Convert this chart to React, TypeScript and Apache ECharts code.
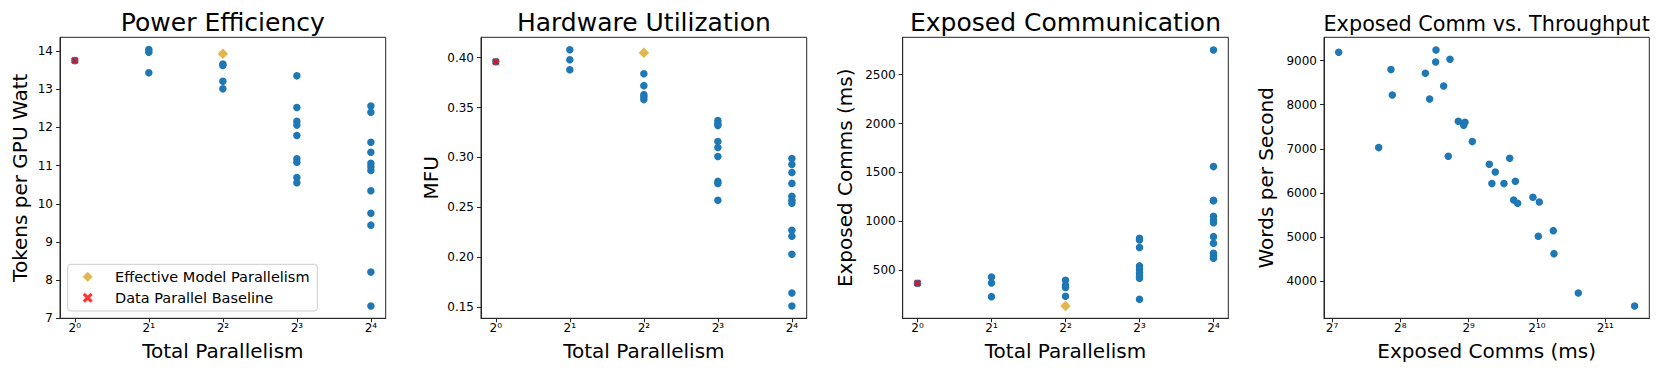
import React, { useEffect, useRef } from "react";
import * as echarts from "echarts";

// ---------------- data ----------------
const parallelism = [1, 2, 4, 8, 16];

// Tokens per GPU Watt, one list per parallelism level
const powerEfficiency = [
  [13.75],
  [14.04, 13.97, 13.43],
  [13.66, 13.62, 13.21, 13.01],
  [13.35, 12.52, 12.16, 12.06, 11.79, 11.18, 11.09, 10.69, 10.55],
  [12.56, 12.4, 11.61, 11.35, 11.06, 10.97, 10.87, 10.34, 9.75, 9.44, 8.21, 7.32],
];

// MFU
const mfu = [
  [0.396],
  [0.408, 0.398, 0.388],
  [0.384, 0.372, 0.363, 0.361, 0.358],
  [0.337, 0.334, 0.332, 0.316, 0.31, 0.301, 0.276, 0.274, 0.257],
  [0.299, 0.293, 0.285, 0.274, 0.261, 0.257, 0.254, 0.227, 0.221, 0.203, 0.164, 0.151],
];

// Exposed comms (ms)
const exposedComms = [
  [368],
  [432, 371, 231],
  [399, 348, 324, 235],
  [828, 811, 732, 545, 511, 476, 443, 419, 205],
  [2752, 1560, 1216, 1210, 1053, 1015, 987, 844, 777, 675, 647, 624],
];

// Effective model parallelism (diamond) at parallelism 4
const effectiveParallelism = 4;
const effectivePower = 13.93;
const effectiveMfu = 0.405;
const effectiveComms = 136;

// Data parallel baseline (x) at parallelism 1
const baselineParallelism = 1;
const baselinePower = 13.75;
const baselineMfu = 0.396;
const baselineComms = 368;

// Exposed comm vs throughput
const commsMs = [
  137.0, 232.8, 236.0, 205.5, 330.0, 344.6, 367.6, 366.3, 423.7, 397.3,
  416.5, 461.1, 493.3, 486.7, 531.5, 631.3, 670.7, 648.2, 732.7, 776.2,
  822.3, 808.4, 841.7, 983.0, 1048.6, 1038.3, 1208.3, 1216.5, 1557.5, 2757,
];
const wordsPerSecond = [
  9189, 8796, 8221, 7026, 8713, 8130, 9242, 8970, 9030, 8425,
  6829, 7623, 7601, 7533, 7162, 6648, 6474, 6209, 6209, 6784,
  6262, 5838, 5763, 5899, 5793, 5014, 5142, 4620, 3728, 3433,
];

const powerTicks = [7, 8, 9, 10, 11, 12, 13, 14];
const mfuTicks = [0.15, 0.2, 0.25, 0.3, 0.35, 0.4];
const commsTicks = [500, 1000, 1500, 2000, 2500];
const commsLogTicks = [128, 256, 512, 1024, 2048];
const wordsTicks = [4000, 5000, 6000, 7000, 8000, 9000];

const titles = ["Power Efficiency", "Hardware Utilization", "Exposed Communication", "Exposed Comm vs. Throughput"];
const yNames = ["Tokens per GPU Watt", "MFU", "Exposed Comms (ms)", "Words per Second"];
const xNames = ["Total Parallelism", "Total Parallelism", "Total Parallelism", "Exposed Comms (ms)"];

// ---------------- styling ----------------
const FONT = "DejaVu Sans";
const BLUE = "#1f77b4";
const GOLD = "#DAA520";
const RED = "#ff0000";
const SPINE = "#262626";
const X_SYMBOL = "path://M0,2.2L2.2,0L5,2.8L7.8,0L10,2.2L7.2,5L10,7.8L7.8,10L5,7.2L2.2,10L0,7.8L2.8,5Z";

const SUP = "⁰¹²³⁴⁵⁶⁷⁸⁹";
const sup = (n: number) =>
  String(n)
    .split("")
    .map((d) => SUP[+d])
    .join("");
const pow2Label = (v: number) => "2" + sup(Math.round(Math.log2(v)));

const gridLefts = [60, 481, 902.7, 1324];
const gridWidths = [325.7, 325.7, 325.6, 325.3];
const GRID_TOP = 37.3;
const GRID_H = 281;
const yNameGaps = [30, 40, 47.5, 47.8];

function levelPoints(levels: number[][]) {
  const out: number[][] = [];
  levels.forEach((vals, i) => vals.forEach((v) => out.push([parallelism[i], v])));
  return out;
}

export default function App() {
  const ref = useRef<HTMLDivElement>(null);
  useEffect(() => {
    if (!ref.current) return;
    const chart = echarts.init(ref.current, undefined, { renderer: "svg" });

    const tickLabelStyle = { fontFamily: FONT, fontSize: 12, color: "#000" };
    const nameStyle = { fontFamily: FONT, fontSize: 20, color: "#000" };

    const grids = gridLefts.map((left, i) => ({
      left,
      top: GRID_TOP,
      width: gridWidths[i],
      height: GRID_H,
      show: true,
      borderColor: SPINE,
      borderWidth: 1,
      backgroundColor: "transparent",
    }));

    const commonAxis = {
      axisLine: { show: true, onZero: false, lineStyle: { color: SPINE, width: 1 } },
      splitLine: { show: false },
      nameLocation: "middle" as const,
      nameTextStyle: nameStyle,
    };

    const xAxes: any[] = [0, 1, 2].map((i) => ({
      ...commonAxis,
      type: "log",
      logBase: 2,
      gridIndex: i,
      min: Math.pow(2, -0.2),
      max: Math.pow(2, 4.2),
      name: xNames[i],
      nameGap: 22.6,
      axisTick: { show: true, length: 4, customValues: parallelism, lineStyle: { color: SPINE } },
      axisLabel: { ...tickLabelStyle, margin: 4, customValues: parallelism, formatter: (v: number) => pow2Label(v) },
    }));
    xAxes.push({
      ...commonAxis,
      type: "log",
      logBase: 2,
      gridIndex: 3,
      min: Math.pow(2, 6.883),
      max: Math.pow(2, 11.644),
      name: xNames[3],
      nameGap: 22.6,
      axisTick: { show: true, length: 4, customValues: commsLogTicks, lineStyle: { color: SPINE } },
      axisLabel: { ...tickLabelStyle, margin: 4, customValues: commsLogTicks, formatter: (v: number) => pow2Label(v) },
    });

    const yRanges = [
      { min: 7, max: 14.36, ticks: powerTicks, fmt: (v: number) => String(Math.round(v)) },
      { min: 0.1387, max: 0.4205, ticks: mfuTicks, fmt: (v: number) => v.toFixed(2) },
      { min: 9.5, max: 2881.6, ticks: commsTicks, fmt: (v: number) => String(Math.round(v)) },
      { min: 3153, max: 9529, ticks: wordsTicks, fmt: (v: number) => String(Math.round(v)) },
    ];
    const yAxes = yRanges.map((r, i) => ({
      ...commonAxis,
      type: "value",
      gridIndex: i,
      min: r.min,
      max: r.max,
      name: yNames[i],
      nameGap: yNameGaps[i],
      axisTick: { show: true, length: 4, customValues: r.ticks, lineStyle: { color: SPINE } },
      axisLabel: { ...tickLabelStyle, margin: 7, customValues: r.ticks, formatter: r.fmt },
    }));

    const blue = (i: number, data: number[][]) => ({
      type: "scatter",
      name: "blue" + i,
      xAxisIndex: i,
      yAxisIndex: i,
      data,
      symbol: "circle",
      symbolSize: 7.5,
      itemStyle: { color: BLUE, opacity: 1 },
      z: 2,
    });
    const diamond = (i: number, v: number) => ({
      type: "scatter",
      name: "Effective Model Parallelism",
      xAxisIndex: i,
      yAxisIndex: i,
      data: [[effectiveParallelism, v]],
      symbol: "diamond",
      symbolSize: 10.5,
      itemStyle: { color: GOLD },
      z: 3,
    });
    const cross = (i: number, v: number) => ({
      type: "scatter",
      name: "Data Parallel Baseline",
      xAxisIndex: i,
      yAxisIndex: i,
      data: [[baselineParallelism, v]],
      symbol: X_SYMBOL,
      symbolSize: 7.5,
      itemStyle: { color: RED },
      z: 4,
    });

    const throughputData = commsMs.map((c, k) => [c, wordsPerSecond[k]]);

    const series: any[] = [
      blue(0, levelPoints(powerEfficiency)),
      diamond(0, effectivePower),
      cross(0, baselinePower),
      blue(1, levelPoints(mfu)),
      diamond(1, effectiveMfu),
      cross(1, baselineMfu),
      blue(2, levelPoints(exposedComms)),
      diamond(2, effectiveComms),
      cross(2, baselineComms),
      blue(3, throughputData),
    ];

    const titleOpts = titles.map((t, i) => ({
      text: t,
      left: gridLefts[i] + gridWidths[i] / 2,
      top: i === 3 ? 13.6 : 10,
      textAlign: "center",
      padding: 0,
      textStyle: { fontFamily: FONT, fontSize: i === 3 ? 20.8 : 25, fontWeight: "normal", color: "#000" },
    }));

    chart.setOption({
      animation: false,
      backgroundColor: "#fff",
      title: titleOpts,
      grid: grids,
      xAxis: xAxes,
      yAxis: yAxes,
      series,
      legend: {
        data: [
          { name: "Effective Model Parallelism", icon: "diamond" },
          { name: "Data Parallel Baseline", icon: X_SYMBOL },
        ],
        orient: "vertical",
        left: 82.7,
        top: 269.2,
        padding: 0,
        itemWidth: 10,
        itemHeight: 10,
        itemGap: 6,
        selectedMode: false,
        z: 10,
        textStyle: { fontFamily: FONT, fontSize: 14.5, lineHeight: 15, color: "#000", padding: [0, 0, 0, 17.3] },
      },
      graphic: [
        {
          type: "rect",
          z: 1,
          shape: { x: 67.7, y: 264.3, width: 249.6, height: 46.7, r: 3 },
          style: { fill: "rgba(255,255,255,0.8)", stroke: "#cccccc", lineWidth: 1 },
        },
      ],
    });
    return () => chart.dispose();
  }, []);
  return <div ref={ref} style={{ position: "absolute", left: 0, top: 0, width: 1661, height: 378 }} />;
}
